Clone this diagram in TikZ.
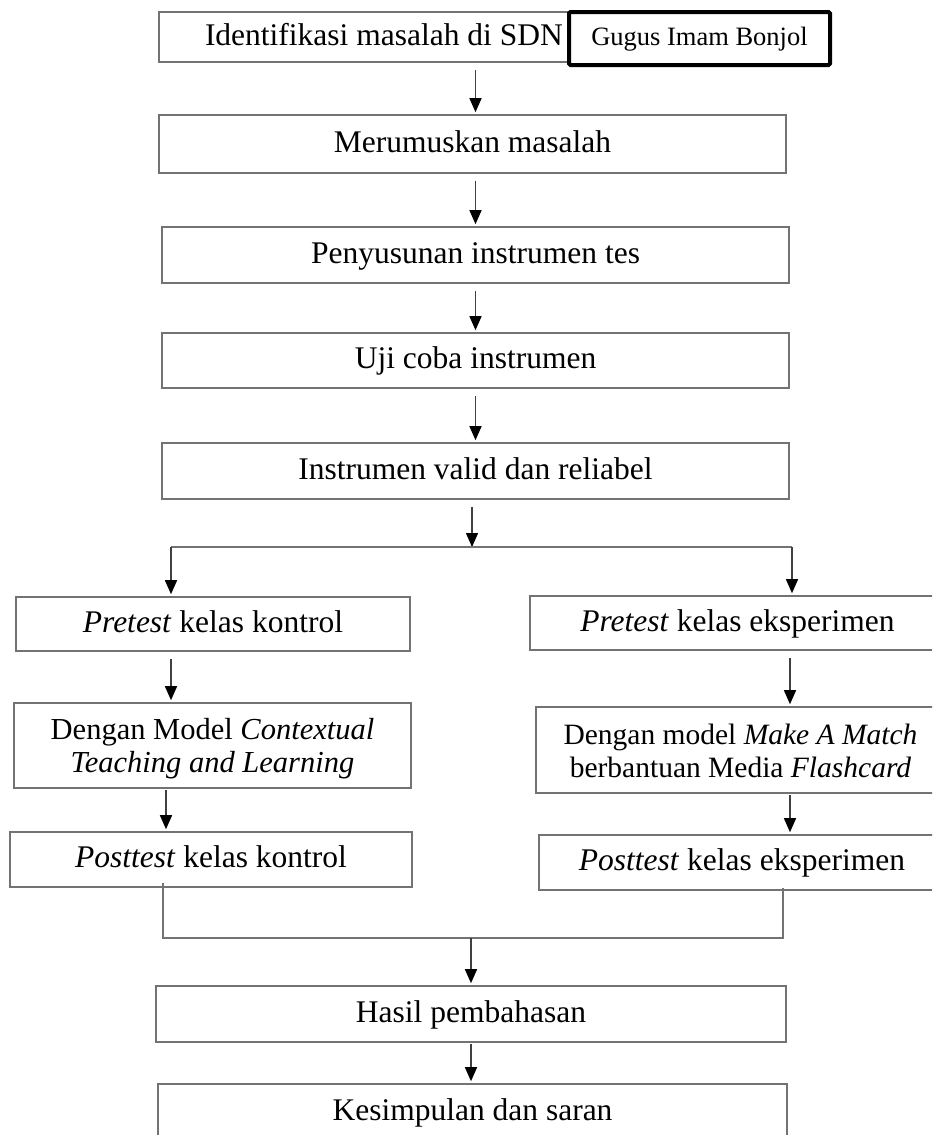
\documentclass[tikz,border=0pt]{standalone}
\usepackage{fontspec}
\setmainfont{Liberation Serif}
\usetikzlibrary{arrows.meta}
\begin{document}
\begin{tikzpicture}[x=1pt,y=-1pt,
  box/.style={draw=black!55, line width=1.6pt, fill=white, inner sep=0pt,
    align=center, font=\fontsize{31.5}{33}\selectfont},
  onebox/.style={box, text height=22pt, text depth=6pt},
  twobox/.style={box, font=\fontsize{30.5}{33}\selectfont, text height=60pt, text depth=6pt},
  tagbox/.style={draw=black, line width=4pt, rounded corners=1.5pt, fill=white,
    inner sep=0pt, text height=19pt, text depth=5pt, font=\fontsize{26.5}{28}\selectfont},
  arr/.style={draw=black!75, line width=1.4pt,
    -{Triangle[width=12pt,length=14pt,color=black]},
    shorten <=7pt, shorten >=2pt},
  link/.style={draw=black!55, line width=1.6pt}]

\useasboundingbox (0,0) rectangle (932,1135);
\clip (0,0) rectangle (932,1135);
\fill[white] (0,0) rectangle (932,1135);

% main column
\node[onebox, minimum width=627pt, minimum height=50pt]
  (b1) at (472.5,37) {\makebox[627pt][l]{\hspace{46pt}Identifikasi masalah di SDN}};
\node[tagbox, minimum width=261pt, minimum height=53pt] (tag) at (699.5,38.5) {Gugus Imam Bonjol};
\node[onebox, minimum width=627pt, minimum height=58pt] (b2) at (472.5,144) {Merumuskan masalah};
\node[onebox, minimum width=627pt, minimum height=56pt] (b3) at (475.5,255) {Penyusunan instrumen tes};
\node[onebox, minimum width=627pt, minimum height=55pt] (b4) at (475.5,360.5) {Uji coba instrumen};
\node[onebox, minimum width=627pt, minimum height=56pt] (b5) at (475.5,471) {Instrumen valid dan reliabel};

% control class
\node[onebox, minimum width=394pt, minimum height=54pt] (l1) at (213,624) {\textit{Pretest} kelas kontrol};
\node[twobox, minimum width=397pt, minimum height=85pt] (l2) at (212.5,745.5)
  {Dengan Model \textit{Contextual}\\\textit{Teaching and Learning}};
\node[onebox, minimum width=402pt, minimum height=55pt] (l3) at (211,859.5) {\textit{Posttest} kelas kontrol};

% experiment class
\node[onebox, minimum width=415pt, minimum height=54pt] (r1) at (737.5,623) {\textit{Pretest} kelas eksperimen};
\node[twobox, minimum width=409pt, minimum height=86pt, font=\fontsize{29.5}{33}\selectfont] (r2) at (740.5,750)
  {Dengan model \textit{Make A Match}\\berbantuan Media \textit{Flashcard}};
\node[onebox, minimum width=406pt, minimum height=55pt] (r3) at (742,862.5) {\textit{Posttest} kelas eksperimen};

% closing steps
\node[onebox, minimum width=630pt, minimum height=56pt] (h) at (471,1014) {Hasil pembahasan};
\node[onebox, minimum width=629pt, minimum height=56pt] (k) at (472.5,1112) {Kesimpulan dan saran};

% branching and joining points
\coordinate (sm) at (472,547);
\coordinate (sl) at (171,547);
\coordinate (sr) at (792,547);
\coordinate (jl) at (163,938);
\coordinate (jr) at (783,938);
\coordinate (jm) at (471,938);

% arrows down the main column
\draw[arr] (b1.south -| b3) -- (b2.north -| b3);
\draw[arr] (b2.south -| b3) -- (b3.north);
\draw[arr] (b3.south) -- (b4.north);
\draw[arr] (b4.south) -- (b5.north);
\draw[arr, shorten >=0pt] (b5.south -| sm) -- (sm);

% split into two classes
\draw[link] (sl) -- (sr);
\draw[arr, shorten <=0pt] (sl) -- (l1.north -| sl);
\draw[arr, shorten <=0pt] (sr) -- (r1.north -| sr);

\draw[arr] (l1.south -| sl) -- (l2.north -| sl);
\draw[arr, shorten <=1pt] ([xshift=-5pt]l2.south -| sl) -- ([xshift=-5pt]l3.north -| sl);
\draw[arr] (r1.south -| 790,0) -- (r2.north -| 790,0);
\draw[arr, shorten <=1pt] (r2.south -| 790,0) -- (r3.north -| 790,0);

% join of the two classes
\draw[link] ([yshift=5pt]l3.south -| jl) -- (jl) -- (jr) -- ([yshift=3pt]r3.south -| jr);
\draw[arr, shorten <=0pt] (jm) -- (h.north -| jm);
\draw[arr, shorten <=1pt] (h.south -| jm) -- (k.north -| jm);

\end{tikzpicture}
\end{document}
